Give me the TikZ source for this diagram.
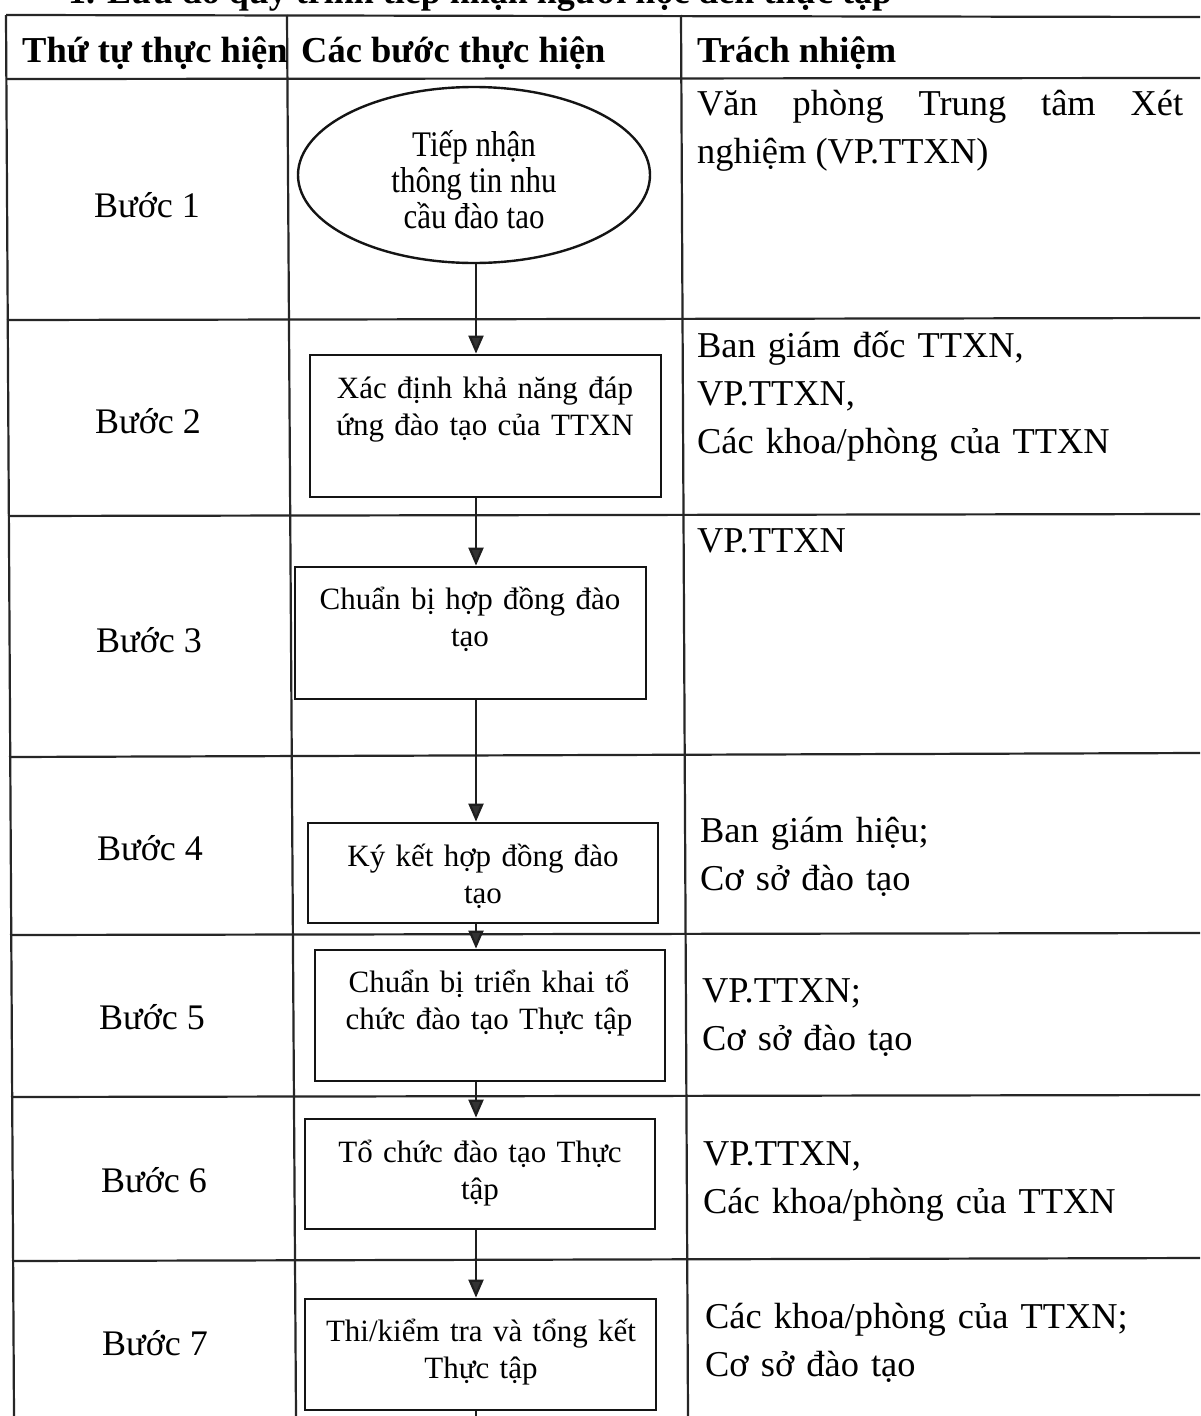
\documentclass[tikz,border=0pt]{standalone}
\usepackage{fontspec}
\setmainfont{Liberation Serif}
\newfontfamily\narrowserif[FakeStretch=0.86]{Liberation Serif}
\usetikzlibrary{shapes.geometric,arrows.meta}
\begin{document}
\begin{tikzpicture}[x=1pt,y=-1pt,
  grid/.style={line width=2.2pt,draw=black!85},
  stepbox/.style={draw=black!92,line width=2.8pt,inner sep=0pt},
  boxtext/.style={anchor=base,inner sep=0pt,text width=350pt,align=center,font=\fontsize{31}{37}\selectfont},
  steplabel/.style={anchor=base,inner sep=0pt,font=\fontsize{36}{44}\selectfont},
  headtext/.style={anchor=base west,inner sep=0pt,font=\bfseries\fontsize{36.5}{44}\selectfont},
  resp/.style={anchor=base west,inner sep=0pt,text width=500pt,align=left,font=\fontsize{36.4}{48}\selectfont},
  arr/.style={line width=2.2pt,draw=black!88,-{Triangle[length=18pt,width=15pt,fill=black!80]}}]
\useasboundingbox (0,0) rectangle (1200,1416);
\fill[white] (0,0) rectangle (1200,1416);

% title (cut at the top of the page, as in the reference)
\node[anchor=base west,inner sep=0pt,font=\bfseries\fontsize{36}{36}\selectfont] (title) at (68,4) {1. Lưu đồ quy trình tiếp nhận người học đến thực tập};

% table grid
\draw[grid] (6,15) -- (1200,17);
\draw[grid] (6,79) -- (1200,78);
\draw[grid] (7,320) -- (1200,318);
\draw[grid] (8,516) -- (1200,514);
\draw[grid] (9,757) -- (1200,753);
\draw[grid] (10,935) -- (1200,933);
\draw[grid] (11,1097) -- (1200,1095);
\draw[grid] (12,1261) -- (1200,1258);
\draw[grid] (6,15) -- (14,1416);
\draw[grid] (287,15) -- (296,1416);
\draw[grid] (681,15) -- (688,1416);

% header
\node[headtext] (h1) at (22,62) {Thứ tự thực hiện};
\node[headtext] (h2) at (301,62) {Các bước thực hiện};
\node[headtext] (h3) at (697,62) {Trách nhiệm};

% step labels
\node[steplabel] (s1) at (147,217) {Bước 1};
\node[steplabel] (s2) at (148,433) {Bước 2};
\node[steplabel] (s3) at (149,652) {Bước 3};
\node[steplabel] (s4) at (150,860) {Bước 4};
\node[steplabel] (s5) at (152,1029) {Bước 5};
\node[steplabel] (s6) at (154,1192) {Bước 6};
\node[steplabel] (s7) at (155,1355) {Bước 7};

% flow shapes
\node[ellipse,draw=black!92,line width=2.4pt,minimum width=352pt,minimum height=176pt,inner sep=0pt,
      align=center,font=\narrowserif\fontsize{36}{36}\selectfont] (e1) at (474,175)
      {\rule{0pt}{8pt}\\[-8pt]Tiếp nhận\\thông tin nhu\\cầu đào tao};
\node[stepbox,minimum width=351pt,minimum height=142pt] (b2) at (485.5,426) {};
\node[stepbox,minimum width=351pt,minimum height=132pt] (b3) at (470.5,633) {};
\node[stepbox,minimum width=350pt,minimum height=100pt] (b4) at (483,873) {};
\node[stepbox,minimum width=350pt,minimum height=131pt] (b5) at (490,1015.5) {};
\node[stepbox,minimum width=350pt,minimum height=110pt] (b6) at (480,1174) {};
\node[stepbox,minimum width=351pt,minimum height=111pt] (b7) at (480.5,1354.5) {};

% box texts
\node[boxtext] (t2) at (485,398) {Xác định khả năng đáp\\ứng đào tạo của TTXN};
\node[boxtext] (t3) at (470,609) {Chuẩn bị hợp đồng đào\\tạo};
\node[boxtext] (t4) at (483,866) {Ký kết hợp đồng đào\\tạo};
\node[boxtext] (t5) at (489,992) {Chuẩn bị triển khai tổ\\chức đào tạo Thực tập};
\node[boxtext] (t6) at (480,1162) {Tổ chức đào tạo Thực\\tập};
\node[boxtext] (t7) at (481,1341) {Thi/kiểm tra và tổng kết\\Thực tập};

% arrows
\coordinate (ax) at (476,0);
\coordinate (endpt) at (476,1440);
\draw[arr] (e1.south -| ax) -- (b2.north -| ax);
\draw[arr] (b2.south -| ax) -- (b3.north -| ax);
\draw[arr] (b3.south -| ax) -- (b4.north -| ax);
\draw[arr] (b4.south -| ax) -- (b5.north -| ax);
\draw[arr] (b5.south -| ax) -- (b6.north -| ax);
\draw[arr] (b6.south -| ax) -- (b7.north -| ax);
\draw[arr] (b7.south -| ax) -- (endpt);

% responsibilities
\node[resp,text width=486pt,align=justify] (r1) at (697,115) {Văn phòng Trung tâm Xét\linebreak nghiệm (VP.TTXN)};
\node[resp] (r2) at (697,357) {Ban giám đốc TTXN,\\VP.TTXN,\\Các khoa/phòng của TTXN};
\node[resp] (r3) at (697,552) {VP.TTXN};
\node[resp] (r4) at (700,842) {Ban giám hiệu;\\Cơ sở đào tạo};
\node[resp] (r5) at (702,1002) {VP.TTXN;\\Cơ sở đào tạo};
\node[resp] (r6) at (703,1165) {VP.TTXN,\\Các khoa/phòng của TTXN};
\node[resp] (r7) at (705,1328) {Các khoa/phòng của TTXN;\\Cơ sở đào tạo};
\end{tikzpicture}
\end{document}
